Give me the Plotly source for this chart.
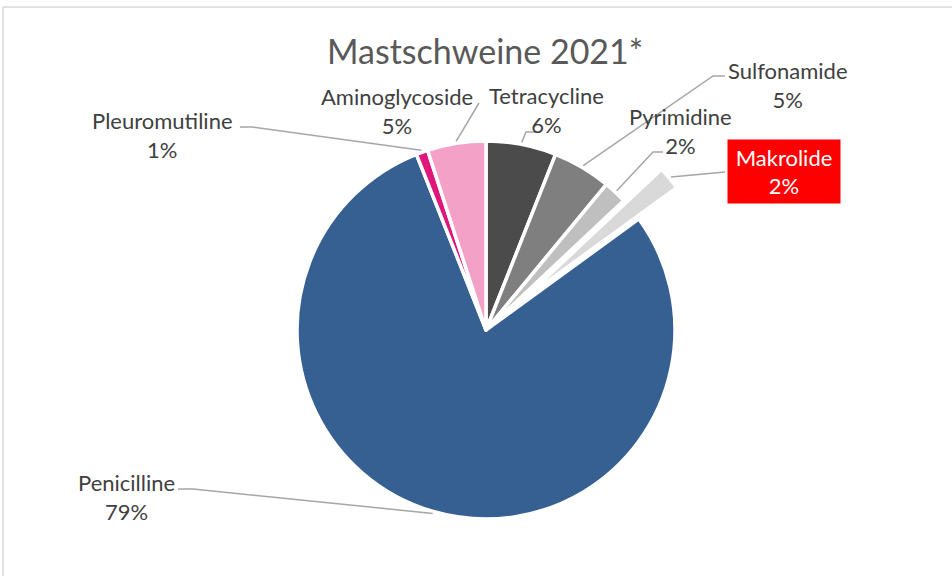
import math
import plotly.graph_objects as go

# ---- data ----
categories = ["Tetracycline", "Sulfonamide", "Pyrimidine", "Makrolide",
              "Penicilline", "Pleuromutiline", "Aminoglycoside"]
shares = [6, 5, 2, 2, 79, 1, 5]
pct_labels = ["6%", "5%", "2%", "2%", "79%", "1%", "5%"]
colors = ["#4b4b4b", "#7f7f7f", "#bfbfbf", "#d9d9d9",
          "#376092", "#e0177a", "#f4a1c8"]
pulls = [0, 0, 0, 0.26, 0, 0, 0]

W, H = 952, 576
CX, CY, R = 486, 330, 189          # pie centre / radius in pixels
max_pull = max(pulls)
half = R * (1 + max_pull)

def px(x):
    return x / W

def py(y):
    return 1 - y / H

fig = go.Figure(go.Pie(
    labels=categories, values=shares, sort=False, direction="clockwise",
    rotation=0, pull=pulls, textinfo="none", hoverinfo="label+percent",
    marker=dict(colors=colors, line=dict(color="white", width=3.5)),
    domain=dict(x=[px(CX - half), px(CX + half)], y=[py(CY + half), py(CY - half)]),
    showlegend=False,
))

# label centres (pixels) and leader-line elbows chosen for layout
label_pos = {
    "Tetracycline": (546, 110),
    "Sulfonamide": (788, 85),
    "Pyrimidine": (680, 131),
    "Makrolide": (784, 171),
    "Penicilline": (126, 497),
    "Pleuromutiline": (162, 135),
    "Aminoglycoside": (397, 111),
}
elbows = {
    "Tetracycline": [(526, 132), (537, 132)],
    "Sulfonamide": [(713, 76), (725, 76)],
    "Pyrimidine": [(653, 152), (663, 152)],
    "Makrolide": [(725, 172)],
    "Penicilline": [(193, 489), (178, 489)],
    "Pleuromutiline": [(252, 127), (240, 127)],
    "Aminoglycoside": [(479, 103)],
}

shapes = []
annotations = []
total = sum(shares)
cum = 0
for cat, val, pct, pull in zip(categories, shares, pct_labels, pulls):
    mid = (cum + val / 2) / total * 2 * math.pi
    cum += val
    rr = R * (1 + pull) + 2
    ax = CX + rr * math.sin(mid)
    ay = CY - rr * math.cos(mid)
    pts = [(ax, ay)] + elbows[cat]
    path = "M " + " L ".join(f"{px(x)},{py(y)}" for x, y in pts)
    shapes.append(dict(type="path", xref="paper", yref="paper", path=path,
                       line=dict(color="#a6a6a6", width=1.5)))
    lx, ly = label_pos[cat]
    if cat == "Makrolide":
        annotations.append(dict(
            x=px(lx), y=py(ly), xref="paper", yref="paper", showarrow=False,
            text=f"{cat}<br>{pct}", font=dict(family="Lato", size=22, color="white"),
            bgcolor="#ff0000", width=110, height=61, align="center",
            xanchor="center", yanchor="middle"))
    else:
        annotations.append(dict(
            x=px(lx), y=py(ly), xref="paper", yref="paper", showarrow=False,
            text=f"{cat}<br>{pct}", font=dict(family="Lato", size=22, color="#404040"),
            align="center", xanchor="center", yanchor="middle"))

annotations.append(dict(
    x=px(485), y=py(51), xref="paper", yref="paper", showarrow=False,
    text="Mastschweine 2021*", font=dict(family="Lato", size=34, color="#595959"),
    xanchor="center", yanchor="middle"))

# chart-area border (top and left edges visible)
shapes.append(dict(type="line", xref="paper", yref="paper",
                   x0=px(3), y0=py(7), x1=1, y1=py(7),
                   line=dict(color="#d9d9d9", width=1.5)))
shapes.append(dict(type="line", xref="paper", yref="paper",
                   x0=px(3), y0=py(7), x1=px(3), y1=0,
                   line=dict(color="#d9d9d9", width=1.5)))

fig.update_layout(
    width=W, height=H, margin=dict(l=0, r=0, t=0, b=0),
    paper_bgcolor="white", plot_bgcolor="white",
    shapes=shapes, annotations=annotations,
)

fig.write_html("out.html", config={"displayModeBar": False},
               post_script="document.body.style.margin='0';document.body.style.overflow='hidden';")
